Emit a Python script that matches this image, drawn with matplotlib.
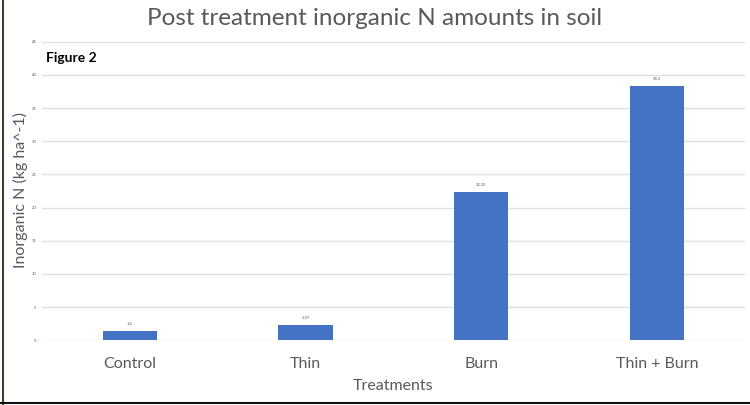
import matplotlib
matplotlib.use("Agg")
import matplotlib.pyplot as plt
from matplotlib.lines import Line2D

treatments = ["Control", "Thin", "Burn", "Thin + Burn"]
inorganic_n = [1.4, 2.27, 22.35, 38.3]
value_labels = ["1.4", "2.27", "22.35", "38.3"]
y_ticks = [0, 5, 10, 15, 20, 25, 30, 35, 40, 45]

plt.rcParams['font.family'] = ['Lato', 'DejaVu Sans']
grey = '#595959'

fig = plt.figure(figsize=(7.5, 4.05), dpi=100)
ax = fig.add_axes([0.056, 0.16, 0.937, 0.737])

x = range(len(treatments))
bars = ax.bar(x, inorganic_n, width=0.31, color='#4472C4', zorder=3)
for b, lab in zip(bars, value_labels):
    ax.text(b.get_x() + b.get_width() / 2, b.get_height() + 0.8, lab,
            ha='center', va='bottom', fontsize=3, color=grey)

ax.set_xlim(-0.5, len(treatments) - 0.5)
ax.set_ylim(0, 45)
ax.set_yticks(y_ticks)
ax.set_yticklabels([str(t) for t in y_ticks], fontsize=3, color=grey)
ax.set_xticks(list(x))
ax.set_xticklabels(treatments, fontsize=11.5, color=grey)
ax.tick_params(axis='both', length=0)
ax.tick_params(axis='x', pad=12)
ax.tick_params(axis='y', pad=4)
ax.grid(axis='y', color='#E0E0E0', linewidth=1, zorder=0)
for s in ax.spines.values():
    s.set_visible(False)

ax.set_xlabel("Treatments", fontsize=11.5, color=grey, labelpad=6)
fig.text(0.027, 0.53, "Inorganic N (kg ha^-1)", rotation=90,
         ha='center', va='center', fontsize=11.5, color=grey)

fig.text(0.5, 0.955, "Post treatment inorganic N amounts in soil",
         ha='center', va='center', fontsize=17.5, color=grey)
fig.text(0.061, 0.857, "Figure 2", ha='left', va='center',
         fontsize=10, fontweight='bold', color='black')

# frame remnants on left and bottom edges
fig.add_artist(Line2D([0.004, 0.004], [0, 1], color='#3a3f2e', linewidth=1.5))
fig.add_artist(Line2D([0, 1], [0.004, 0.004], color='#111111', linewidth=1.5))

fig.savefig("out.png", dpi=100)
